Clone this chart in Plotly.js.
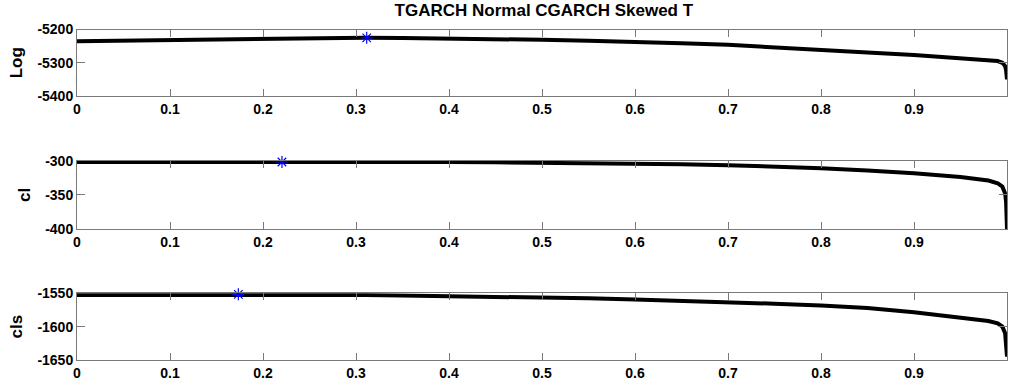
<!DOCTYPE html>
<html>
<head>
<meta charset="utf-8">
<script src="https://cdn.plot.ly/plotly-3.0.1.min.js"></script>
<style>html,body{margin:0;padding:0;background:#fff;}#chart{width:1009px;height:385px;}</style>
</head>
<body>
<div id="chart"></div>
<script>
// ---- data ----
const chartTitle = "TGARCH Normal CGARCH Skewed T";
const panelNames = ["Log", "cl", "cls"];
const gridX = [0, 0.05, 0.1, 0.15, 0.2, 0.25, 0.31, 0.35, 0.4, 0.45, 0.5, 0.55, 0.6, 0.65, 0.7, 0.75, 0.8, 0.85, 0.9, 0.95, 0.97, 0.98, 0.99, 0.995, 0.998, 0.999, 1];
const logVals = [-5235, -5233, -5231, -5229, -5227.5, -5226, -5225, -5225.5, -5226.5, -5228.5, -5231, -5234, -5237, -5241, -5246, -5253, -5261, -5269, -5277, -5286, -5289.5, -5291.5, -5295, -5300, -5310, -5322, -5350];
const clVals  = [-302, -301.9, -301.8, -301.6, -301.4, -301.4, -301.5, -301.7, -302, -302.4, -302.9, -303.4, -304.1, -305.1, -306.5, -308.5, -311, -314.5, -318.5, -324, -327, -329, -333, -338, -348, -360, -400];
const clsVals = [-1552.5, -1552.3, -1552.1, -1552, -1552, -1552.2, -1552.7, -1553.2, -1554, -1555, -1556.2, -1557.6, -1559.2, -1561, -1563.2, -1565.6, -1568.4, -1572, -1578.5, -1586, -1589.5, -1591.5, -1595, -1600, -1610, -1622, -1645];
const starX = [0.3115, 0.2204, 0.1735];
const starY = [-5225, -301.9, -1551.5];
const yRanges = [[-5400, -5200], [-400, -300], [-1650, -1550]];
const yTickVals = [[-5400, -5300, -5200], [-400, -350, -300], [-1650, -1600, -1550]];
const yTickText = [["-5400", "-5300", "-5200"], ["-400", "-350", "-300"], ["-1650", "-1600", "-1550"]];
const xTickVals = [0, 0.1, 0.2, 0.3, 0.4, 0.5, 0.6, 0.7, 0.8, 0.9, 1];
const xTickText = ["0", "0.1", "0.2", "0.3", "0.4", "0.5", "0.6", "0.7", "0.8", "0.9", "1"];
const series = [logVals, clVals, clsVals];

// ---- layout geometry (pixel rows of each panel) ----
const H = 385;
const panelPx = [[29.5, 96], [160.7, 229], [293.3, 360]];
const FONT = "Arial, 'Liberation Sans', sans-serif";

const traces = [];
const layout = {
  width: 1009, height: 385,
  margin: {l: 77, r: 2, t: 0, b: 0, pad: 0},
  paper_bgcolor: "#ffffff", plot_bgcolor: "#ffffff",
  showlegend: false,
  font: {family: FONT, color: "#000", size: 14, weight: 700},
  title: {text: chartTitle, font: {family: FONT, size: 17, color: "#000", weight: 700},
          x: 0.502, xref: "paper", xanchor: "center", y: 1 - 10/H, yref: "container", yanchor: "middle"}
};

for (let i = 0; i < 3; i++) {
  const s = i === 0 ? "" : String(i + 1);
  traces.push({
    x: gridX, y: series[i], xaxis: "x" + s, yaxis: "y" + s,
    type: "scatter", mode: "lines", line: {color: "#000", width: 4, shape: "linear"},
    hoverinfo: "skip"
  });
  traces.push({
    x: [starX[i]], y: [starY[i]], xaxis: "x" + s, yaxis: "y" + s,
    type: "scatter", mode: "markers", cliponaxis: false,
    marker: {symbol: "asterisk-open", size: 10, color: "#0000ff", line: {color: "#0000ff", width: 1.2}},
    hoverinfo: "skip"
  });
  const dom = [1 - panelPx[i][1] / H, 1 - panelPx[i][0] / H];
  layout["xaxis" + s] = {
    domain: [0, 1], anchor: "y" + s, range: [0, 1], fixedrange: true,
    tickmode: "array", tickvals: xTickVals, ticktext: xTickText,
    ticks: "inside", ticklen: 7, tickwidth: 1, tickcolor: "#7a7a7a",
    showline: true, linecolor: "#7a7a7a", linewidth: 1, mirror: "ticks",
    showgrid: false, zeroline: false,
    tickfont: {family: FONT, size: 14, color: "#000", weight: 700}
  };
  layout["yaxis" + s] = {
    domain: dom, anchor: "x" + s, range: yRanges[i], fixedrange: true,
    tickmode: "array", tickvals: yTickVals[i], ticktext: yTickText[i],
    ticks: "inside", ticklen: 8, tickwidth: 1, tickcolor: "#7a7a7a",
    showline: true, linecolor: "#7a7a7a", linewidth: 1, mirror: "ticks",
    showgrid: false, zeroline: false,
    tickfont: {family: FONT, size: 14, color: "#000", weight: 700},
    title: {text: panelNames[i], standoff: 10, font: {family: FONT, size: 17, color: "#000", weight: 700}}
  };
}

Plotly.newPlot("chart", traces, layout, {staticPlot: true, displayModeBar: false});
</script>
</body>
</html>
